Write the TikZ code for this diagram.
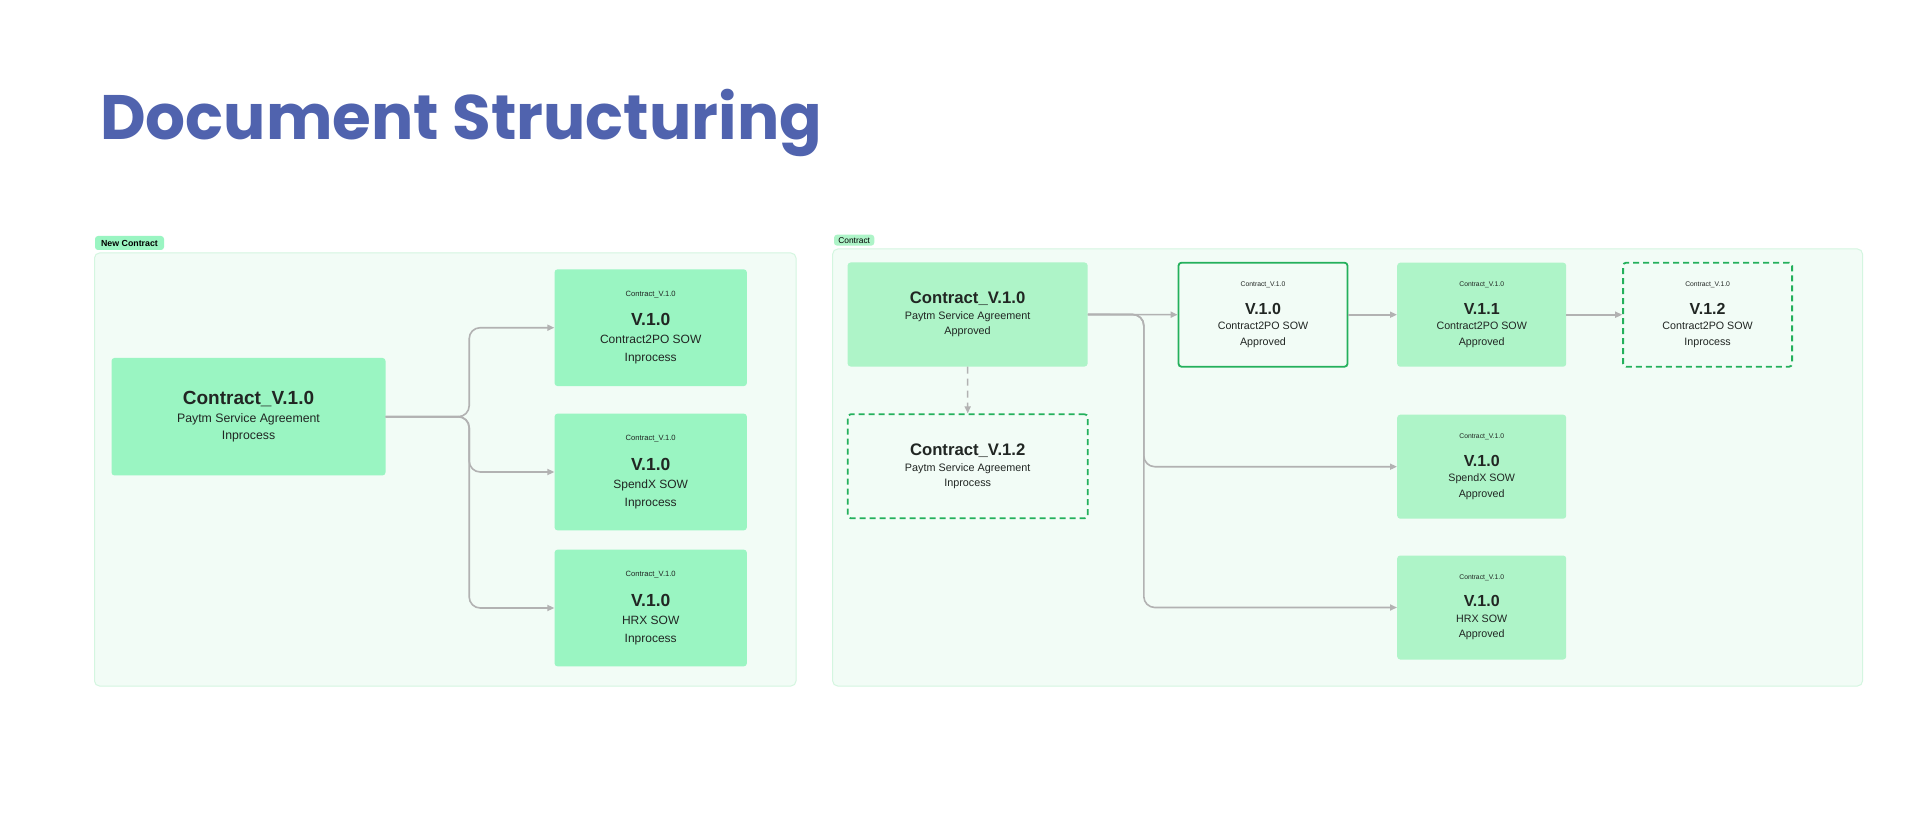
\documentclass[tikz,border=0pt]{standalone}
\usepackage{fontspec}
\setmainfont{Liberation Sans}
\newfontfamily\titlefont{Poppins}
\usetikzlibrary{calc, positioning, arrows.meta}
\definecolor{TitleBlue}{RGB}{80, 99, 174}
\definecolor{MintFill}{RGB}{154, 245, 194}
\definecolor{PaleMint}{RGB}{174, 244, 200}
\definecolor{GroupBg}{RGB}{242, 252, 246}
\definecolor{GroupEdge}{RGB}{212, 246, 224}
\definecolor{LeafGreen}{RGB}{36, 176, 92}
\definecolor{WireGrey}{RGB}{178, 178, 178}
\definecolor{InkDark}{RGB}{33, 38, 35}

\tikzset{
    grp/.style={fill=GroupBg, draw=GroupEdge, line width=1pt, rounded corners=5pt},
    pill/.style={fill=MintFill, rounded corners=3pt, inner sep=0pt, text=black},
    card/.style={rectangle, rounded corners=3pt, inner sep=0pt, align=center, text=InkDark},
    mainbox/.style={card, fill=MintFill, minimum width=274pt, minimum height=117.5pt,
        font=\fontsize{12.3}{17}\selectfont},
    sowbox/.style={card, fill=MintFill, minimum width=192.3pt, minimum height=116.7pt,
        font=\fontsize{12}{18}\selectfont},
    apprbox/.style={card, fill=PaleMint, minimum width=169pt, minimum height=104pt,
        font=\fontsize{10.7}{15.5}\selectfont},
    headbox/.style={card, fill=PaleMint, minimum width=240pt, minimum height=104pt,
        font=\fontsize{10.8}{15}\selectfont},
    edgebox/.style={draw=LeafGreen, line width=1.8pt, fill=GroupBg},
    draftbox/.style={draw=LeafGreen, line width=1.8pt, dash pattern=on 6pt off 4pt, fill=GroupBg},
    conn/.style={draw=WireGrey, line width=1.6pt, rounded corners=11pt,
        -{Triangle[length=7pt, width=6pt]}},
}

\begin{document}
\begin{tikzpicture}[x=1pt, y=-1pt]
    \fill[white] (0,0) rectangle (1920,837);
    \useasboundingbox (0,0) rectangle (1920,837);

    % Titulo
    \node[anchor=base west, inner sep=0pt, text=TitleBlue, font=\titlefont\bfseries\fontsize{62.8}{70}\selectfont]
        (title) at (100,140) {Document Structuring};

    % Grupo: New Contract
    \draw[grp] (94.5,253) rectangle (796,686);
    \fill[MintFill, rounded corners=3pt] (95,236) rectangle (164,250);
    \node[inner sep=0pt, font=\bfseries\fontsize{8.8}{9}\selectfont] (newlbl) at (129.5,243) {New Contract};

    \node[mainbox] (nmain) at (248.5,416.7)
        {{\fontsize{19}{20}\selectfont\bfseries Contract\_V.1.0}\\[1pt]
         Paytm Service Agreement\\ Inprocess};
    \node[sowbox] (nc2po) at (650.7,327.7)
        {{\fontsize{7.6}{8}\selectfont Contract\_V.1.0}\\[11.7pt]
         {\fontsize{17.5}{18}\selectfont\bfseries V.1.0}\\ Contract2PO SOW\\ Inprocess};
    \node[sowbox] (nspx) at (650.7,472)
        {{\fontsize{7.6}{8}\selectfont Contract\_V.1.0}\\[11.7pt]
         {\fontsize{17.5}{18}\selectfont\bfseries V.1.0}\\ SpendX SOW\\ Inprocess};
    \node[sowbox] (nhrx) at (650.7,608)
        {{\fontsize{7.6}{8}\selectfont Contract\_V.1.0}\\[11.7pt]
         {\fontsize{17.5}{18}\selectfont\bfseries V.1.0}\\ HRX SOW\\ Inprocess};

    \coordinate (lsplit) at ($(nmain.east)+(83.5,0)$);
    \draw[conn] (nmain.east) -- (lsplit) |- (nc2po.west);
    \draw[conn] (nmain.east) -- (lsplit) |- (nspx.west);
    \draw[conn] (nmain.east) -- (lsplit) |- (nhrx.west);

    % Grupo: Contract
    \draw[grp] (832.7,249) rectangle (1862.5,686);
    \fill[PaleMint, rounded corners=3pt] (834,234.7) rectangle (874.3,245.6);
    \node[inner sep=0pt, font=\fontsize{8.4}{9}\selectfont] (ctrlbl) at (854.2,240.2) {Contract};

    \node[headbox] (cmain) at (967.6,314.5)
        {{\fontsize{16.7}{18}\selectfont\bfseries Contract\_V.1.0}\\[1pt]
         Paytm Service Agreement\\ Approved};
    \node[headbox, draftbox] (cdraft) at (967.7,466.3)
        {{\fontsize{16.7}{18}\selectfont\bfseries Contract\_V.1.2}\\[1pt]
         Paytm Service Agreement\\ Inprocess};

    \node[apprbox, edgebox] (s100) at (1263,314.7)
        {{\fontsize{6.8}{7}\selectfont Contract\_V.1.0}\\[11.8pt]
         {\fontsize{16}{17}\selectfont\bfseries V.1.0}\\ Contract2PO SOW\\ Approved};
    \node[apprbox] (s110) at (1481.7,314.7)
        {{\fontsize{6.8}{7}\selectfont Contract\_V.1.0}\\[11.8pt]
         {\fontsize{16}{17}\selectfont\bfseries V.1.1}\\ Contract2PO SOW\\ Approved};
    \node[apprbox, draftbox] (s120) at (1707.6,314.7)
        {{\fontsize{6.8}{7}\selectfont Contract\_V.1.0}\\[11.8pt]
         {\fontsize{16}{17}\selectfont\bfseries V.1.2}\\ Contract2PO SOW\\ Inprocess};
    \node[apprbox] (sspx) at (1481.7,466.7)
        {{\fontsize{6.8}{7}\selectfont Contract\_V.1.0}\\[11.8pt]
         {\fontsize{16}{17}\selectfont\bfseries V.1.0}\\ SpendX SOW\\ Approved};
    \node[apprbox] (shrx) at (1481.7,607.5)
        {{\fontsize{6.8}{7}\selectfont Contract\_V.1.0}\\[11.8pt]
         {\fontsize{16}{17}\selectfont\bfseries V.1.0}\\ HRX SOW\\ Approved};

    \coordinate (rsplit) at ($(cmain.east)+(56,0)$);
    \draw[conn] (cmain.east) -- (s100.west);
    \draw[conn] (cmain.east) -- (rsplit) |- (sspx.west);
    \draw[conn] (cmain.east) -- (rsplit) |- (shrx.west);
    \draw[conn] (s100.east) -- (s110.west);
    \draw[conn] (s110.east) -- (s120.west);
    \draw[conn, dash pattern=on 7pt off 5pt] (cmain.south) -- (cdraft.north);
\end{tikzpicture}
\end{document}
